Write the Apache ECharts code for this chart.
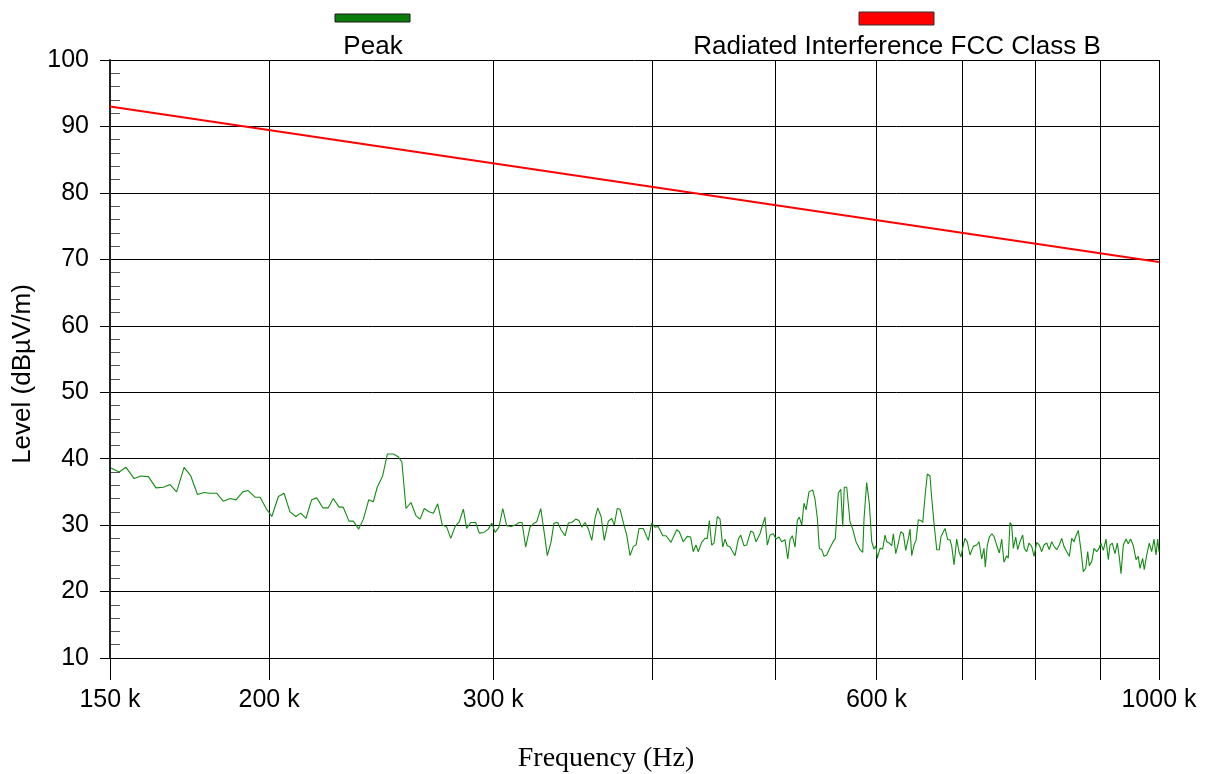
<!DOCTYPE html>
<html>
<head>
<meta charset="utf-8">
<script src="https://cdn.jsdelivr.net/npm/echarts@6/dist/echarts.min.js"></script>
<style>
  html, body { margin: 0; padding: 0; background: #ffffff; }
  #chart { width: 1210px; height: 774px; }
</style>
</head>
<body>
<div id="chart"></div>
<script>
// Measured peak trace: frequency in kHz, level in dBµV/m
const freqKHz = [
  150.3, 152.5, 154.4, 156.7, 158.6, 160.8, 163.0, 165.2, 167.2, 169.2,
  171.5, 173.6, 175.7, 177.8, 179.7, 181.9, 184.1, 186.4, 188.4, 190.7,
  192.6, 195.0, 196.8, 199.1, 201.0, 203.4, 205.5, 207.7, 209.9, 211.8,
  213.8, 216.0, 218.0, 220.4, 222.6, 224.6, 227.0, 228.7, 231.1, 232.9,
  235.2, 237.2, 239.5, 241.5, 243.2, 245.6, 247.7, 250.4, 252.6, 254.3,
  256.2, 258.5, 260.9, 262.8, 264.8, 267.1, 269.2, 271.3, 273.6, 275.8,
  277.8, 280.0, 282.1, 284.2, 285.9, 288.0, 290.6, 292.5, 295.0, 297.3,
  299.2, 301.0, 303.1, 305.2, 307.4, 309.8, 312.0, 314.5, 316.0, 318.1,
  320.6, 322.5, 324.5, 326.9, 329.0, 330.8, 333.0, 334.8, 337.1, 339.1,
  341.6, 343.6, 345.7, 348.3, 350.3, 352.1, 354.2, 356.3, 358.5, 360.6,
  362.4, 364.6, 366.7, 369.4, 371.7, 373.4, 375.4, 377.3, 380.0, 381.9,
  384.2, 386.5, 388.4, 390.5, 393.5, 397.1, 399.5, 401.9, 404.3, 407.6,
  410.0, 413.7, 418.0, 420.0, 423.0, 426.1, 428.7, 430.7, 432.8, 434.6,
  437.3, 440.0, 441.8, 443.4, 445.3, 447.2, 449.9, 452.1, 454.3, 456.2,
  458.1, 460.3, 464.5, 467.3, 469.3, 472.1, 474.4, 477.9, 480.1, 482.5,
  486.0, 488.0, 490.4, 492.4, 494.9, 497.8, 500.3, 503.0, 505.4, 508.5,
  511.0, 513.1, 515.2, 517.8, 519.9, 521.8, 524.1, 526.2, 528.2, 531.0,
  534.6, 536.8, 539.1, 541.0, 543.4, 545.6, 548.3, 550.9, 554.3, 556.9,
  559.9, 562.4, 564.4, 566.0, 568.5, 571.9, 574.7, 578.1, 582.3, 585.2,
  586.6, 589.4, 592.2, 594.8, 597.2, 599.4, 600.8, 603.8, 606.7, 609.3,
  611.1, 614.0, 616.7, 618.5, 621.2, 624.1, 626.8, 629.8, 632.5, 635.5,
  637.5, 639.4, 642.1, 644.4, 647.1, 649.9, 652.3, 655.0, 657.7, 660.9,
  663.0, 665.7, 669.0, 672.1, 674.2, 676.3, 679.1, 682.4, 685.3, 687.4,
  690.3, 693.6, 696.5, 699.0, 701.9, 704.1, 707.0, 710.5, 714.8, 719.2,
  722.2, 725.7, 728.7, 730.4, 733.1, 735.8, 739.0, 742.0, 745.6, 749.2,
  752.4, 755.5, 759.2, 761.4, 763.8, 766.1, 768.4, 771.7, 774.5, 777.7,
  781.5, 783.8, 787.2, 790.5, 794.4, 797.7, 801.6, 805.4, 808.9, 812.2,
  816.2, 820.1, 823.6, 827.1, 831.1, 835.0, 838.7, 842.1, 846.3, 850.3,
  854.0, 857.5, 860.6, 864.2, 868.0, 872.1, 875.9, 879.0, 881.6, 885.4,
  889.1, 893.5, 897.2, 900.4, 904.2, 908.6, 912.4, 915.2, 919.0, 923.5,
  927.4, 930.7, 933.6, 937.5, 942.1, 946.0, 950.1, 954.6, 959.3, 963.2,
  966.2, 970.9, 973.7, 978.0, 982.6, 986.9, 991.0, 994.6, 997.6, 1000.0
];
const peakLevel = [
  38.6, 38.0, 38.7, 37.0, 37.4, 37.3, 35.6, 35.7, 36.1, 35.0,
  38.7, 37.4, 34.6, 34.9, 34.8, 34.8, 33.6, 34.0, 33.8, 35.0,
  35.2, 34.2, 34.2, 32.4, 31.3, 34.3, 34.8, 32.0, 31.3, 31.8,
  31.0, 33.8, 34.1, 32.6, 32.6, 34.0, 32.7, 32.7, 30.6, 30.6,
  29.4, 30.9, 33.8, 33.5, 35.7, 37.4, 40.7, 40.7, 40.3, 39.5,
  32.5, 33.4, 31.4, 30.9, 32.5, 32.0, 31.8, 33.2, 30.0, 29.7,
  28.0, 29.8, 30.5, 32.4, 29.5, 30.4, 30.4, 28.8, 28.9, 29.4,
  30.3, 28.9, 29.7, 32.5, 29.9, 29.8, 30.0, 30.4, 30.4, 26.7,
  29.7, 30.2, 30.5, 32.5, 28.8, 25.4, 27.4, 30.3, 30.4, 29.3,
  28.4, 30.3, 30.4, 30.9, 30.7, 29.7, 30.4, 29.4, 27.7, 31.0,
  32.6, 31.3, 27.7, 30.6, 31.0, 30.0, 32.5, 32.4, 30.0, 28.5,
  25.4, 26.8, 27.0, 29.5, 29.5, 27.7, 30.3, 29.7, 29.8, 28.4,
  28.4, 27.4, 29.3, 29.0, 27.5, 28.3, 28.2, 26.0, 27.0, 26.0,
  27.4, 28.0, 28.0, 30.7, 27.0, 27.3, 31.3, 30.9, 26.7, 27.9,
  26.9, 26.7, 25.4, 27.9, 28.5, 26.9, 27.0, 29.1, 28.9, 27.5,
  28.7, 29.9, 31.2, 27.0, 28.5, 28.7, 27.9, 28.2, 27.5, 27.8,
  24.9, 27.8, 28.4, 26.7, 30.7, 31.2, 30.0, 33.3, 32.3, 35.0,
  35.3, 33.9, 31.0, 26.5, 26.3, 25.3, 25.5, 26.4, 27.4, 28.0,
  34.8, 35.4, 29.8, 35.7, 35.7, 30.5, 29.4, 27.5, 26.3, 25.9,
  31.0, 36.4, 33.3, 27.5, 26.4, 26.9, 25.0, 26.5, 26.4, 28.5,
  27.5, 27.3, 26.9, 28.7, 25.7, 27.3, 29.0, 28.7, 26.2, 28.0,
  29.4, 25.4, 27.0, 27.7, 30.8, 30.7, 30.4, 34.3, 37.7, 37.4,
  34.0, 30.3, 26.3, 26.3, 28.3, 28.3, 29.5, 27.8, 27.8, 26.8,
  24.0, 27.9, 26.0, 25.2, 27.0, 28.0, 27.5, 25.5, 26.8, 27.0,
  27.5, 24.9, 26.5, 23.7, 27.0, 28.2, 28.7, 28.3, 27.0, 25.8,
  27.9, 24.4, 25.4, 25.0, 30.4, 30.0, 26.5, 28.2, 26.3, 27.5,
  28.5, 26.5, 26.0, 27.3, 26.8, 25.3, 27.4, 27.0, 26.0, 27.0,
  27.3, 26.3, 27.5, 26.8, 26.3, 27.0, 28.0, 26.8, 26.0, 25.3,
  28.0, 27.5, 28.4, 29.2, 26.5, 23.0, 23.5, 26.0, 23.9, 24.5,
  26.5, 26.0, 26.5, 27.3, 26.2, 27.9, 24.8, 27.0, 27.3, 25.7,
  27.3, 25.2, 22.7, 27.0, 27.9, 27.2, 27.9, 26.9, 24.8, 25.3,
  23.5, 25.0, 23.3, 25.5, 27.3, 26.0, 27.9, 25.5, 27.9, 26.0
];

// FCC Class B radiated limit (straight line on a log frequency scale)
const limitFreqKHz = [150, 1000];
const limitLevel = [93.0, 69.6];

// Axis layout values
const gridFreqKHz = [150, 200, 300, 400, 500, 600, 700, 800, 900, 1000];
const labelFreqKHz = [150, 200, 300, 600, 1000];
const levelMin = 10;
const levelMax = 100;
const levelStep = 10;
const levelMinorStep = 2;

const seriesNames = ['Peak', 'Radiated Interference FCC Class B'];

const lg = Math.log10;
const toPoints = (fs, vs) => fs.map((f, i) => [lg(f), vs[i]]);

const SANS = '"Liberation Sans", Arial, sans-serif';
const SERIF = '"Liberation Serif", "Times New Roman", serif';

const chart = echarts.init(document.getElementById('chart'), null, { renderer: 'canvas' });

// Shared level-axis range; extra axes only draw tick marks
const levelRange = { type: 'value', min: levelMin, max: levelMax, position: 'left' };

chart.setOption({
  animation: false,
  backgroundColor: '#ffffff',
  grid: { left: 110, right: 51, top: 60, bottom: 116, containLabel: false },
  xAxis: {
    type: 'value',
    min: lg(150),
    max: lg(1000),
    axisLine: { show: true, lineStyle: { color: '#000', width: 1 } },
    axisTick: {
      show: true,
      length: 22,
      lineStyle: { color: '#000', width: 1 },
      customValues: gridFreqKHz.map(lg)
    },
    axisLabel: {
      customValues: labelFreqKHz.map(lg),
      formatter: v => Math.round(Math.pow(10, v)) + ' k',
      color: '#000',
      fontFamily: SANS,
      fontSize: 25,
      margin: 30
    },
    splitLine: { show: true, lineStyle: { color: '#000', width: 1 } }
  },
  yAxis: [
    Object.assign({}, levelRange, {
      interval: levelStep,
      axisLine: { show: true, lineStyle: { color: '#222', width: 2 } },
      axisTick: { show: false },
      axisLabel: { color: '#000', fontFamily: SANS, fontSize: 25, margin: 21 },
      splitLine: { show: true, lineStyle: { color: '#000', width: 1 } },
      z: 2
    }),
    // outward major ticks (gridlines poke past the axis)
    Object.assign({}, levelRange, {
      interval: levelStep,
      axisLine: { show: false },
      axisTick: { show: true, inside: false, length: 10, lineStyle: { color: '#000' } },
      axisLabel: { show: false },
      splitLine: { show: false }
    }),
    // inward minor ticks every 2 dB
    Object.assign({}, levelRange, {
      interval: levelMinorStep,
      axisLine: { show: false },
      axisTick: { show: true, inside: true, length: 10, lineStyle: { color: '#555', width: 1 } },
      axisLabel: { show: false },
      splitLine: { show: false }
    })
  ],
  series: [
    {
      name: seriesNames[0],
      type: 'line',
      data: toPoints(freqKHz, peakLevel),
      showSymbol: false,
      symbol: 'none',
      lineStyle: { color: '#148c14', width: 1.1 },
      z: 3
    },
    {
      name: seriesNames[1],
      type: 'line',
      data: toPoints(limitFreqKHz, limitLevel),
      showSymbol: false,
      symbol: 'none',
      lineStyle: { color: '#ff0000', width: 2 },
      z: 4
    }
  ],
  graphic: [
    { type: 'rect', shape: { x: 335, y: 14, width: 75, height: 8 },
      style: { fill: '#0b7d0b', stroke: '#1a1a1a', lineWidth: 1 } },
    { type: 'text', x: 373, y: 47,
      style: { text: seriesNames[0], fill: '#000', font: '26px ' + SANS, align: 'center', verticalAlign: 'middle' } },
    { type: 'rect', shape: { x: 859, y: 12, width: 75, height: 13 },
      style: { fill: '#ff0000', stroke: '#333', lineWidth: 1 } },
    { type: 'text', x: 897, y: 47,
      style: { text: seriesNames[1], fill: '#000', font: '26px ' + SANS, align: 'center', verticalAlign: 'middle' } },
    { type: 'text', x: 23, y: 374, rotation: Math.PI / 2,
      style: { text: 'Level (dBµV/m)', fill: '#000', font: '26px ' + SANS, align: 'center', verticalAlign: 'middle' } },
    { type: 'text', x: 606, y: 759,
      style: { text: 'Frequency (Hz)', fill: '#000', font: '28px ' + SERIF, align: 'center', verticalAlign: 'middle' } }
  ]
});
</script>
</body>
</html>
